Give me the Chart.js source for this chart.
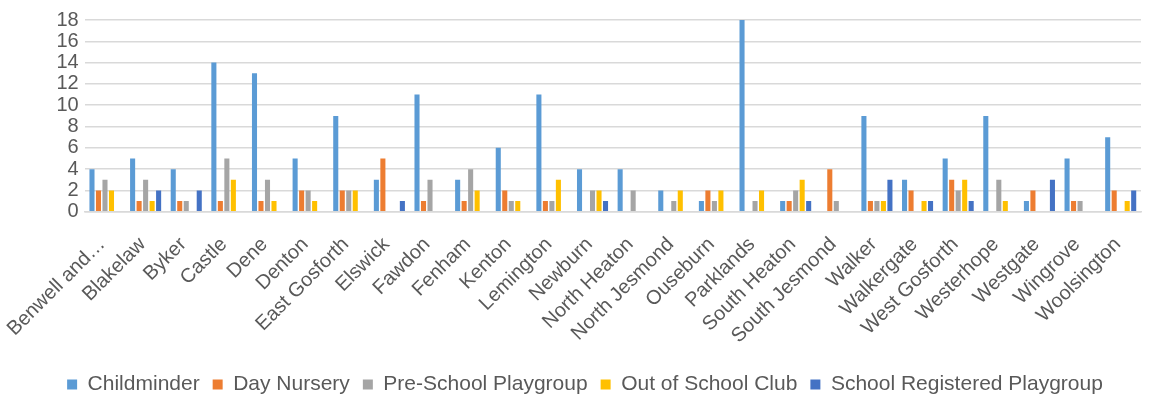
<!DOCTYPE html>
<html>
<head>
<meta charset="utf-8">
<title>Childcare providers by ward</title>
<script src="https://cdn.jsdelivr.net/npm/chart.js@4/dist/chart.umd.min.js"></script>
<style>
    html, body { margin: 0; padding: 0; background: #fff; }
    #wrap { width: 1150px; height: 394px; position: relative; }
</style>
</head>
<body>
<div id="wrap"><canvas id="wardChart"></canvas></div>
<script>
(function() {
    'use strict';

    // ===== DATA =====
    const wards = [
        'Benwell and\u2026', 'Blakelaw', 'Byker', 'Castle', 'Dene', 'Denton', 'East Gosforth',
        'Elswick', 'Fawdon', 'Fenham', 'Kenton', 'Lemington', 'Newburn', 'North Heaton',
        'North Jesmond', 'Ouseburn', 'Parklands', 'South Heaton', 'South Jesmond', 'Walker',
        'Walkergate', 'West Gosforth', 'Westerhope', 'Westgate', 'Wingrove', 'Woolsington'
    ];
    const childminder    = [4, 5, 4, 14, 13, 5, 9, 3, 11, 3, 6, 11, 4, 4, 2, 1, 18, 1, 0, 9, 3, 5, 9, 1, 5, 7];
    const dayNursery     = [2, 1, 1, 1, 1, 2, 2, 5, 1, 1, 2, 1, 0, 0, 0, 2, 0, 1, 4, 1, 2, 3, 0, 2, 1, 2];
    const preSchool      = [3, 3, 1, 5, 3, 2, 2, 0, 3, 4, 1, 1, 2, 2, 1, 1, 1, 2, 1, 1, 0, 2, 3, 0, 1, 0];
    const outOfSchool    = [2, 1, 0, 3, 1, 1, 2, 0, 0, 2, 1, 3, 2, 0, 2, 2, 2, 3, 0, 1, 1, 3, 1, 0, 0, 1];
    const schoolPlaygrp  = [0, 2, 2, 0, 0, 0, 0, 1, 0, 0, 0, 0, 1, 0, 0, 0, 0, 1, 0, 3, 1, 1, 0, 3, 0, 2];
    const yTicks = [0, 2, 4, 6, 8, 10, 12, 14, 16, 18];

    const FONT = '"Liberation Sans", Arial, sans-serif';
    const TEXT = '#595959';

    function series(label, data, color) {
        return {
            label: label,
            data: data,
            backgroundColor: color,
            borderWidth: 0,
            categoryPercentage: 0.8,
            barPercentage: 0.78
        };
    }

    // ===== CHART =====
    const ctx = document.getElementById('wardChart').getContext('2d');
    new Chart(ctx, {
        type: 'bar',
        data: {
            labels: wards,
            datasets: [
                series('Childminder', childminder, '#5B9BD5'),
                series('Day Nursery', dayNursery, '#ED7D31'),
                series('Pre-School Playgroup', preSchool, '#A5A5A5'),
                series('Out of School Club', outOfSchool, '#FFC000'),
                series('School Registered Playgroup', schoolPlaygrp, '#4472C4')
            ]
        },
        options: {
            responsive: true,
            maintainAspectRatio: false,
            animation: false,
            layout: { padding: { top: 20, right: -4, left: 16, bottom: -11 } },
            plugins: {
                tooltip: { enabled: false },
                legend: {
                    position: 'bottom',
                    labels: {
                        boxWidth: 10,
                        boxHeight: 10,
                        padding: 13,
                        color: TEXT,
                        font: { family: FONT, size: 21 }
                    }
                }
            },
            scales: {
                y: {
                    min: 0,
                    max: 18,
                    afterBuildTicks: function(axis) {
                        axis.ticks = yTicks.map(v => ({ value: v }));
                    },
                    border: { display: false },
                    grid: { color: '#D9D9D9', lineWidth: 1.5, drawTicks: false },
                    ticks: {
                        color: TEXT,
                        autoSkip: false,
                        padding: 6,
                        font: { family: FONT, size: 20 }
                    }
                },
                x: {
                    border: { color: '#D9D9D9', width: 1.5 },
                    grid: { display: false },
                    ticks: {
                        color: TEXT,
                        autoSkip: false,
                        minRotation: 45,
                        maxRotation: 45,
                        padding: 13,
                        labelOffset: -3,
                        font: { family: FONT, size: 20 }
                    }
                }
            }
        }
    });
})();
</script>
</body>
</html>
